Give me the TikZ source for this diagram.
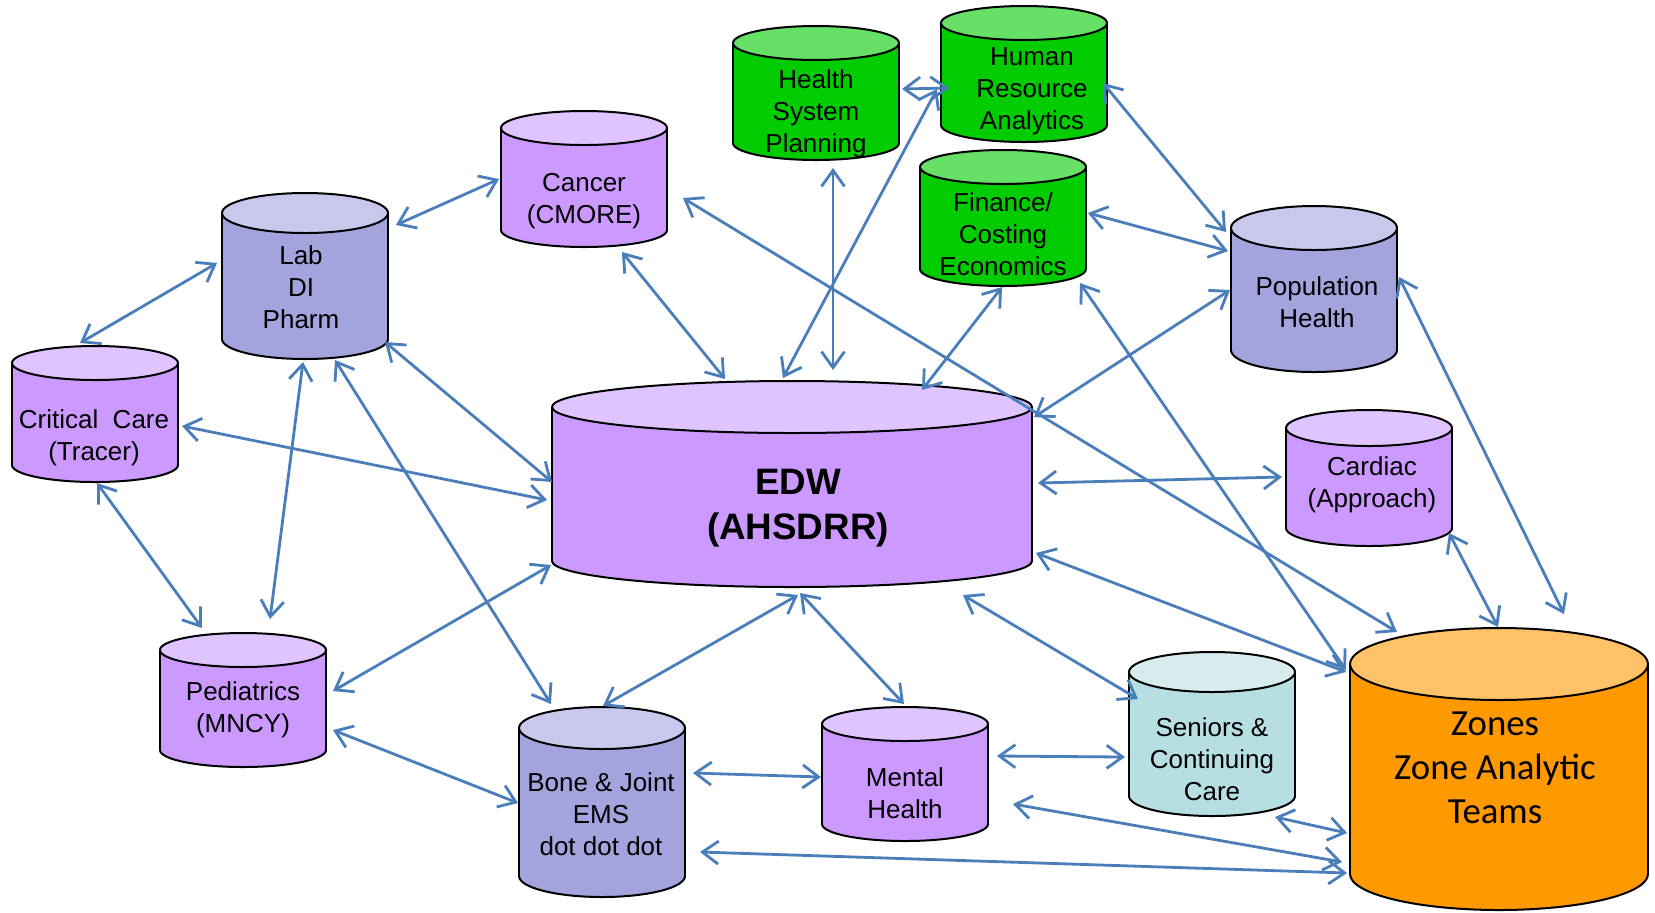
\documentclass[tikz,border=0pt]{standalone}
\usepackage{fontspec}
\setmainfont{Liberation Sans}
\newfontfamily\zonesfont{Carlito}
\usetikzlibrary{arrows.meta}
\definecolor{greenbody}{HTML}{00CC00}
\definecolor{greentop}{HTML}{66E066}
\definecolor{purplebody}{HTML}{CC99FF}
\definecolor{purpletop}{HTML}{E0C4FF}
\definecolor{lavbody}{HTML}{A3A3DD}
\definecolor{lavtop}{HTML}{C8C8EC}
\definecolor{tealbody}{HTML}{B7DFE3}
\definecolor{tealtop}{HTML}{D7ECEF}
\definecolor{orangebody}{HTML}{FF9900}
\definecolor{orangetop}{HTML}{FFC266}
\definecolor{arrowblue}{HTML}{4A7EBB}
\tikzset{
  cylline/.style={draw=black, line width=1pt},
  anchorpt/.style={circle, inner sep=0pt, outer sep=0pt, minimum size=0pt},
  txt/.style={align=center, inner sep=0pt, font=\fontsize{13}{16}\selectfont},
  edwtxt/.style={align=center, inner sep=0pt, font=\fontsize{18.4}{22.5}\selectfont\bfseries},
  zonetxt/.style={align=center, inner sep=0pt, font=\zonesfont\fontsize{18.4}{22}\selectfont},
  link/.style={draw=arrowblue, line width=1.4pt,
    {Straight Barb[length=8pt,width=11.5pt]}-{Straight Barb[length=8pt,width=11.5pt]}}
}
% #1 name, #2 cx, #3 cy, #4 rx, #5 half distance between ellipse centres, #6 ry, #7 body, #8 top
\newcommand\dbcyl[8]{%
  \node[anchorpt] (#1) at (#2,#3) {};
  \filldraw[cylline, fill=#7] ([shift={(0,#5)}]#1.center) ellipse [x radius=#4, y radius=#6];
  \fill[#7] ([shift={(-#4,-#5)}]#1.center) rectangle ([shift={(#4,#5)}]#1.center);
  \draw[cylline] ([shift={(-#4,-#5)}]#1.center) -- ([shift={(-#4,#5)}]#1.center)
                 ([shift={(#4,-#5)}]#1.center) -- ([shift={(#4,#5)}]#1.center);
  \filldraw[cylline, fill=#8] ([shift={(0,-#5)}]#1.center) ellipse [x radius=#4, y radius=#6];
}
\begin{document}
\begin{tikzpicture}[x=0.5pt,y=-0.5pt]
\useasboundingbox (0,0) rectangle (1655,912);
\fill[white] (0,0) rectangle (1655,912);

% cylinders
\dbcyl{hsp}{816}{93}{83}{50}{17}{greenbody}{greentop}
\dbcyl{hra}{1024}{74}{83}{51}{17}{greenbody}{greentop}
\dbcyl{fin}{1003}{218}{83}{51}{17}{greenbody}{greentop}
\dbcyl{cancer}{584}{179}{83}{51}{17}{purplebody}{purpletop}
\dbcyl{lab}{305}{276}{83}{63}{20}{lavbody}{lavtop}
\dbcyl{crit}{95}{414}{83}{51}{17}{purplebody}{purpletop}
\dbcyl{edw}{792}{484}{240}{77}{26}{purplebody}{purpletop}
\dbcyl{pop}{1314}{289}{83}{61}{22}{lavbody}{lavtop}
\dbcyl{cardiac}{1369}{478}{83}{50}{18}{purplebody}{purpletop}
\dbcyl{ped}{243}{700}{83}{50}{17}{purplebody}{purpletop}
\dbcyl{bone}{602}{802}{83}{74}{21}{lavbody}{lavtop}
\dbcyl{mental}{905}{774}{83}{50}{17}{purplebody}{purpletop}
\dbcyl{seniors}{1212}{734}{83}{62}{20}{tealbody}{tealtop}
\dbcyl{zones}{1499}{769}{149}{105}{36}{orangebody}{orangetop}

% texts
\node[txt] (hsp-t) at ([shift={(0,21)}]hsp.center) {Health\\System\\Planning};
\node[txt] (hra-t) at ([shift={(8,17)}]hra.center) {Human\\Resource\\Analytics};
\node[txt] (fin-t) at ([shift={(0,16)}]fin.center) {Finance/\\Costing\\Economics};
\node[txt] (cancer-t) at ([shift={(0,22)}]cancer.center) {Cancer\\(CMORE)};
\node[txt] (lab-t) at ([shift={(-4,11)}]lab.center) {Lab\\DI\\Pharm};
\node[txt] (crit-t) at ([shift={(-1,24)}]crit.center) {Critical\ \ Care\\(Tracer)};
\node[edwtxt] (edw-t) at ([shift={(6,24)}]edw.center) {EDW\\(AHSDRR)};
\node[txt] (pop-t) at ([shift={(3,13)}]pop.center) {Population\\Health};
\node[txt] (cardiac-t) at ([shift={(3,7)}]cardiac.center) {Cardiac\\(Approach)};
\node[txt] (ped-t) at ([shift={(0,10)}]ped.center) {Pediatrics\\(MNCY)};
\node[txt] (bone-t) at ([shift={(-1,12)}]bone.center) {Bone \& Joint\\EMS\\dot dot dot};
\node[txt] (mental-t) at ([shift={(0,19)}]mental.center) {Mental\\Health};
\node[txt] (seniors-t) at ([shift={(0,25)}]seniors.center) {Seniors \&\\Continuing\\Care};
\node[zonetxt] (zones-t) at ([shift={(-4,-1)}]zones.center) {Zones\\Zone Analytic\\Teams};

% connectors
\draw[link] ([shift={(91,-51)}]lab.center) -- ([shift={(-85,0)}]cancer.center);
\draw[link] ([shift={(-88,-13)}]lab.center) -- ([shift={(-15,-71)}]crit.center);
\draw[link] ([shift={(87,12)}]crit.center) -- ([shift={(-245,16)}]edw.center);
\draw[link] ([shift={(80,66)}]lab.center) -- ([shift={(-240,-2)}]edw.center);
\draw[link] ([shift={(-2,86)}]lab.center) -- ([shift={(27,-81)}]ped.center);
\draw[link] ([shift={(30,84)}]lab.center) -- ([shift={(-51,-98)}]bone.center);
\draw[link] ([shift={(2,69)}]crit.center) -- ([shift={(-41,-72)}]ped.center);
\draw[link] ([shift={(90,-9)}]ped.center) -- ([shift={(-241,81)}]edw.center);
\draw[link] ([shift={(90,30)}]ped.center) -- ([shift={(-84,1)}]bone.center);
\draw[link] ([shift={(38,73)}]cancer.center) -- ([shift={(-67,-105)}]edw.center);
\draw[link] ([shift={(99,19)}]cancer.center) -- ([shift={(-102,-137)}]zones.center);
\draw[link] ([shift={(17,75)}]hsp.center) -- ([shift={(41,-114)}]edw.center);
\draw[link] ([shift={(-87,15)}]hra.center) -- ([shift={(-9,-106)}]edw.center);
\draw[link] ([shift={(86,-4)}]hsp.center) -- ([shift={(-75,14)}]hra.center);
\draw[link] ([shift={(-1,69)}]fin.center) -- ([shift={(130,-94)}]edw.center);
\draw[link] ([shift={(79,9)}]hra.center) -- ([shift={(-88,-57)}]pop.center);
\draw[link] ([shift={(85,-5)}]fin.center) -- ([shift={(-86,-38)}]pop.center);
\draw[link] ([shift={(-84,1)}]pop.center) -- ([shift={(242,-67)}]edw.center);
\draw[link] ([shift={(77,65)}]fin.center) -- ([shift={(-153,-99)}]zones.center);
\draw[link] ([shift={(85,-12)}]pop.center) -- ([shift={(65,-155)}]zones.center);
\draw[link] ([shift={(246,-1)}]edw.center) -- ([shift={(-87,-1)}]cardiac.center);
\draw[link] ([shift={(80,55)}]cardiac.center) -- ([shift={(-1,-142)}]zones.center);
\draw[link] ([shift={(244,69)}]edw.center) -- ([shift={(-153,-97)}]zones.center);
\draw[link] ([shift={(171,111)}]edw.center) -- ([shift={(-74,-35)}]seniors.center);
\draw[link] ([shift={(8,109)}]edw.center) -- ([shift={(-1,-70)}]mental.center);
\draw[link] ([shift={(6,111)}]edw.center) -- ([shift={(1,-96)}]bone.center);
\draw[link] ([shift={(91,-29)}]bone.center) -- ([shift={(-84,3)}]mental.center);
\draw[link] ([shift={(92,-18)}]mental.center) -- ([shift={(-87,23)}]seniors.center);
\draw[link] ([shift={(108,30)}]mental.center) -- ([shift={(-157,93)}]zones.center);
\draw[link] ([shift={(63,83)}]seniors.center) -- ([shift={(-152,64)}]zones.center);
\draw[link] ([shift={(98,50)}]bone.center) -- ([shift={(-152,104)}]zones.center);
\end{tikzpicture}
\end{document}
